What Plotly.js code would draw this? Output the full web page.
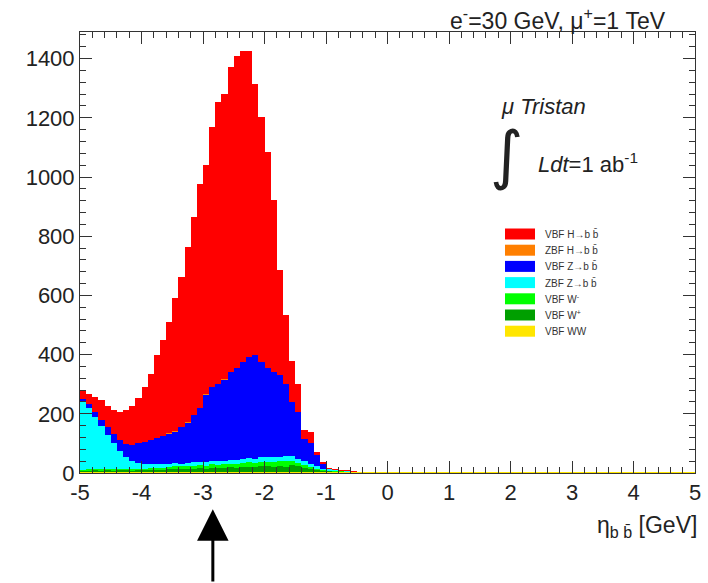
<!DOCTYPE html>
<html>
<head>
<meta charset="utf-8">
<script src="https://cdn.plot.ly/plotly-3.0.1.min.js"></script>
<style>html,body{margin:0;padding:0;background:#fff;}#chart{width:708px;height:583px;}</style>
</head>
<body>
<div id="chart"></div>
<script>
// Histogram: 100 bins of width 0.1 from eta = -5 to 5 (first bin centre -4.95)
const binStart = -4.95;
const binWidth = 0.1;

const seriesNames = ["VBF H\u2192b b\u0304", "ZBF H\u2192b b\u0304", "VBF Z\u2192b b\u0304", "ZBF Z\u2192b b\u0304", "VBF W<sup>-</sup>", "VBF W<sup>+</sup>", "VBF WW"];
const seriesColors = ["#ff0000", "#ff7f00", "#0000ff", "#00ffff", "#00ff00", "#009f00", "#ffe600"];

// values per bin (bins beyond the listed ones are empty)
const vbfH = [32,36,53,65,73,80,93,114,133,152,185,223,282,323,375,449,505,591,668,754,773,877,952,965,1030,1054,1051,1034,916,826,728,580,354,232,139,94,30,40,10,7,3,2,1,4,1];
const zbfH = [0,0,0,0,0,0,0,0,0,0,0,0,0,1,1,1,1,1,1,1,1,1,1,1,1,1,1,1,1,1,1,1,1,1,1,1,0,0,0,0,0,0,0,0,0];
const vbfZ = [10,12,15,20,25,32,37,43,53,65,73,82,87,95,103,106,123,136,159,183,229,249,260,273,295,312,329,341,351,321,302,286,277,243,182,158,75,70,38,15,2,0,0,0,0];
const zbfZ = [230,208,178,147,117,87,61,40,29,20,18,14,13,12,11,12,10,11,12,10,11,12,13,11,14,12,13,15,14,16,15,17,14,18,16,13,12,10,8,5,4,3,2,1,1];
const vbfWm = [3,4,3,5,4,5,4,6,5,6,5,6,7,8,7,9,8,10,9,11,10,12,11,13,12,14,13,15,14,16,15,17,14,18,15,12,10,7,5,3,2,2,1,1,0];
const vbfWp = [4,5,6,5,6,5,7,6,5,6,6,7,8,7,9,10,11,10,12,13,12,14,13,15,16,14,17,18,16,19,20,17,22,18,24,19,15,10,6,4,3,2,2,1,1];
const vbfWW = [3,3,3,3,3,3,3,3,3,3,3,3,3,3,3,3,3,3,3,3,3,3,3,3,3,3,3,3,3,3,3,3,3,3,3,3,3,3,3,3,3,3,3,3,3,3,3,3,3,3,
               3,3,3,3,3,3,3,3,3,3,3,3,3,3,3,3,3,3,3,3,3,3,3,3,3,3,3,3,3,3,3,3,3,3,3,3,3,3,3,3,3,3,3,3,3,3,3,3,3,3];

const xTickVals = [-5,-4,-3,-2,-1,0,1,2,3,4,5];
const xTickText = ["-5","-4","-3","-2","-1","0","1","2","3","4","5"];
const yTickVals = [0,200,400,600,800,1000,1200,1400];
const yTickText = ["0","200","400","600","800","1000","1200","1400"];

// stacking order bottom -> top
const stackOrder = [
  {vals: vbfWW, idx: 6},
  {vals: vbfWp, idx: 5},
  {vals: vbfWm, idx: 4},
  {vals: zbfZ, idx: 3},
  {vals: vbfZ, idx: 2},
  {vals: zbfH, idx: 1},
  {vals: vbfH, idx: 0}
];

const traces = stackOrder.map(s => ({
  type: "bar",
  y: s.vals,
  x0: binStart,
  dx: binWidth,
  name: seriesNames[s.idx],
  marker: {color: seriesColors[s.idx], line: {width: 0}},
  hoverinfo: "skip"
}));

const FONT = "Liberation Sans, Arial, Helvetica, sans-serif";
const axisCol = "#333";

// plot area in pixels: x 80..695, y 32..473
const annotations = [
  {text: "e<sup>-</sup>=30 GeV, \u03bc<sup>+</sup>=1 TeV", xref: "paper", yref: "paper", x: 0.956, y: 0.99, xanchor: "right", yanchor: "bottom", showarrow: false, font: {family: FONT, size: 23, color: "#222"}},
  {text: "<i>\u03bc Tristan</i>", xref: "paper", yref: "paper", x: 0.681, y: 0.830, xanchor: "left", yanchor: "middle", showarrow: false, font: {family: FONT, size: 22, color: "#222"}},
  {text: "\u222b", xref: "paper", yref: "paper", x: 0.694, y: 0.722, xanchor: "center", yanchor: "middle", showarrow: false, font: {family: "DejaVu Sans, sans-serif", size: 64, color: "#222"}},
  {text: "<i>Ldt</i>=1 ab<sup>-1</sup>", xref: "paper", yref: "paper", x: 0.741, y: 0.703, xanchor: "left", yanchor: "middle", showarrow: false, font: {family: FONT, size: 22, color: "#222"}},
  {text: "\u03b7<sub>b b\u0304</sub> [GeV]", xref: "paper", yref: "paper", x: 1.006, y: -0.122, xanchor: "right", yanchor: "middle", showarrow: false, font: {family: FONT, size: 23, color: "#222"}},
  {text: "", xref: "x", yref: "paper", x: -2.84, y: -0.082, ax: 0, ay: 76, showarrow: true, arrowhead: 2, arrowsize: 2.1, arrowwidth: 3, arrowcolor: "#000"}
];

// hand-drawn legend (ROOT style boxes)
const shapes = [];
const legTop = 234, legStep = 16.2;
for (let i = 0; i < seriesNames.length; i++) {
  const yc = legTop + i * legStep;
  const y0 = (473 - (yc + 5.5)) / 441, y1 = (473 - (yc - 5.5)) / 441;
  shapes.push({type: "rect", xref: "paper", yref: "paper", x0: (505 - 80) / 615, x1: (535 - 80) / 615, y0: y0, y1: y1, fillcolor: seriesColors[i], line: {width: 0}});
  annotations.push({text: seriesNames[i], xref: "paper", yref: "paper", x: (543 - 80) / 615, y: (473 - yc) / 441, xanchor: "left", yanchor: "middle", showarrow: false, font: {family: FONT, size: 10, color: "#333"}});
}

const layout = {
  width: 708, height: 583,
  margin: {l: 80, r: 13, t: 32, b: 110, pad: 0},
  paper_bgcolor: "#fff", plot_bgcolor: "#fff",
  barmode: "stack", bargap: 0,
  showlegend: false,
  hovermode: false,
  xaxis: {
    range: [-5, 5], tickvals: xTickVals, ticktext: xTickText,
    ticks: "inside", ticklen: 12, tickcolor: axisCol, tickwidth: 1,
    minor: {dtick: 0.2, tick0: -5, ticks: "inside", ticklen: 6, tickcolor: axisCol, showgrid: false},
    showline: true, linecolor: axisCol, linewidth: 1, mirror: "ticks",
    showgrid: false, zeroline: false,
    tickfont: {family: FONT, size: 22, color: "#222"}
  },
  yaxis: {
    range: [0, 1490], tickvals: yTickVals, ticktext: yTickText,
    ticks: "inside", ticklen: 12, tickcolor: axisCol, tickwidth: 1,
    minor: {dtick: 40, tick0: 0, ticks: "inside", ticklen: 6, tickcolor: axisCol, showgrid: false},
    showline: true, linecolor: axisCol, linewidth: 1, mirror: "ticks",
    showgrid: false, zeroline: false,
    tickfont: {family: FONT, size: 22, color: "#222"}
  },
  annotations: annotations,
  shapes: shapes
};

Plotly.newPlot("chart", traces, layout, {staticPlot: true, displayModeBar: false});
</script>
</body>
</html>
